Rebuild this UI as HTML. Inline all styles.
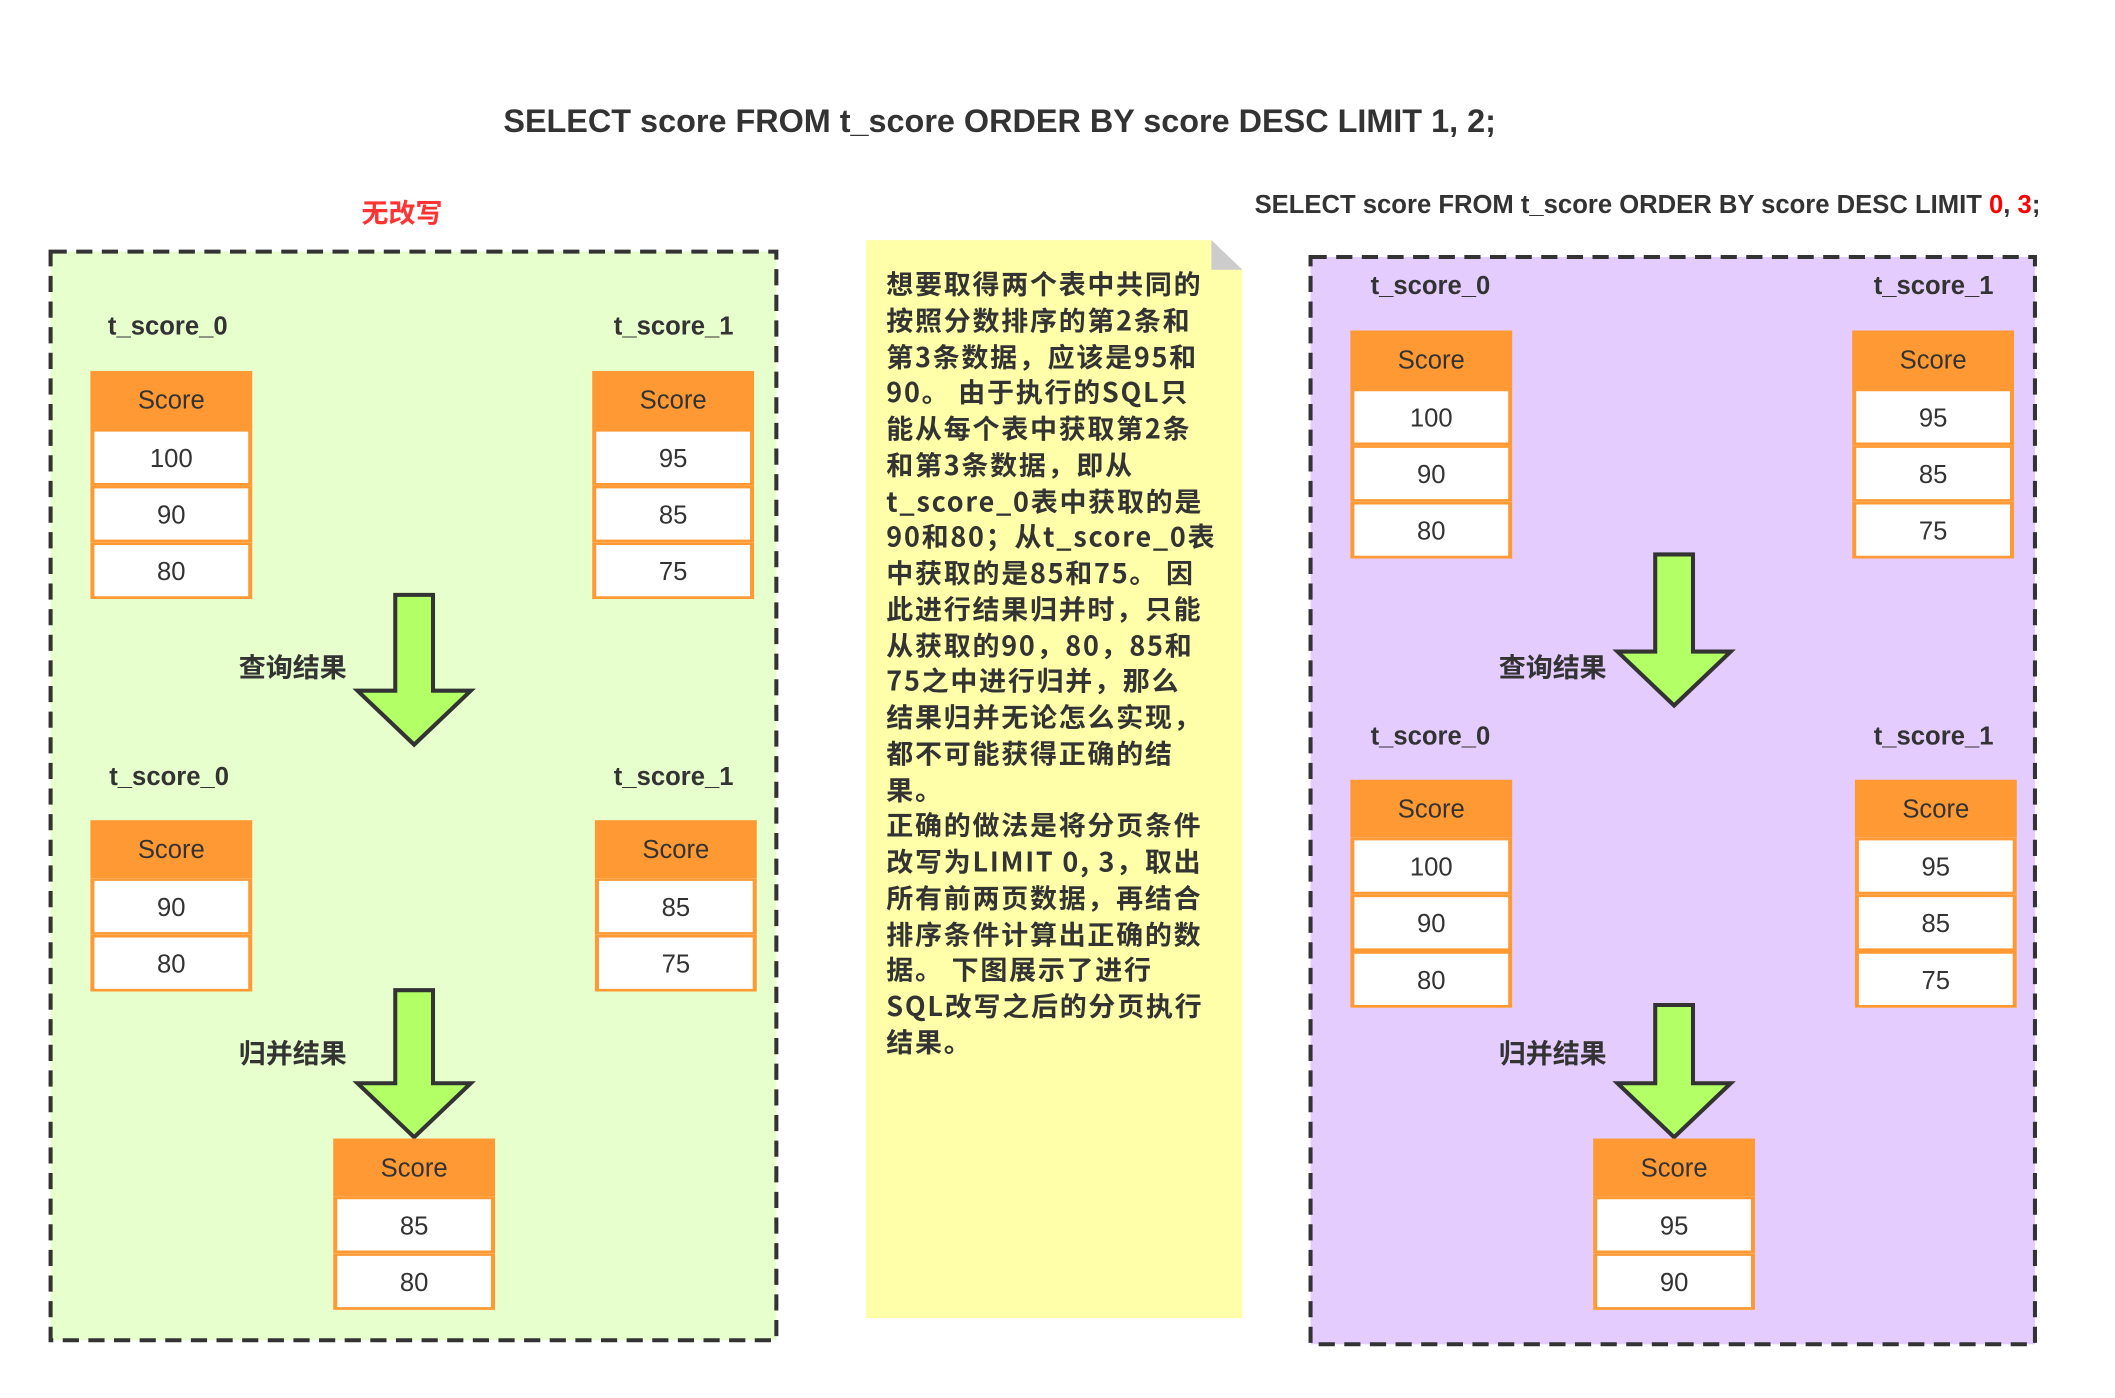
<!DOCTYPE html>
<html><head><meta charset="utf-8"><style>
html,body{margin:0;padding:0;background:#fff;overflow:hidden}
#w{position:absolute;left:0;top:0;width:1560px;height:1031px;transform:scale(1.349);transform-origin:0 0;font-family:"Liberation Sans","Noto Sans CJK SC",sans-serif;color:#333}
.a{position:absolute;white-space:nowrap}
.b{font-weight:bold}
.lbl{position:absolute;font-weight:bold;font-size:19px;line-height:20px;transform:translateY(-8px)}
.tb{position:absolute;width:120px}
.tb div{box-sizing:border-box;height:42px;display:flex;align-items:center;justify-content:center;font-size:19px;padding-top:3px}
.tb .h{background:#ff9933;height:43px}
.tb .c{background:#fff;border:3px solid #ff9933;border-top-width:2px;border-bottom-width:2px}
svg{position:absolute;left:0;top:0}
</style></head><body><div id="w">
<div class="a b" style="left:0;width:1482px;text-align:center;top:77px;font-size:24px">SELECT score FROM t_score ORDER BY score DESC LIMIT 1, 2;</div>
<div class="a b" style="left:268px;top:142px;font-size:20px;color:#ff3333">无改写</div>
<div class="a b" style="left:930px;top:142px;font-size:19px">SELECT score FROM t_score ORDER BY score DESC LIMIT <span style="color:#f00">0</span>, <span style="color:#f00">3</span>;</div>

<svg width="1560" height="1031">
<rect x="37.5" y="186.5" width="538" height="807" fill="#e6ffcc" stroke="#333" stroke-width="3" stroke-dasharray="12 7"/>
<rect x="971.5" y="190.5" width="537" height="806" fill="#e5ccff" stroke="#333" stroke-width="3" stroke-dasharray="12 7"/>
<polygon points="642,178 898,178 921,200 921,977 642,977" fill="#ffffaa"/>
<polygon points="898,178 921,200 898,200" fill="#cccccc"/>
<g fill="#b3ff66" stroke="#333" stroke-width="3">
<polygon points="293,441 321,441 321,512 349,512 307,552 265,512 293,512"/>
<polygon points="293,734 321,734 321,803 349,803 307,843 265,803 293,803"/>
<polygon points="1227,411 1255,411 1255,483 1283,483 1241,523 1199,483 1227,483"/>
<polygon points="1227,745 1255,745 1255,803 1283,803 1241,843 1199,803 1227,803"/>
</g>
</svg>

<div class="a b" style="left:657px;top:197px;font-size:20px;line-height:26.75px;font-family:'Noto Sans CJK SC',sans-serif;letter-spacing:1.3px">想要取得两个表中共同的<br>按照分数排序的第2条和<br>第3条数据，应该是95和<br>90。 由于执行的SQL只<br>能从每个表中获取第2条<br>和第3条数据，即从<br>t_score_0表中获取的是<br>90和80；从t_score_0表<br>中获取的是85和75。 因<br>此进行结果归并时，只能<br>从获取的90，80，85和<br>75之中进行归并，那么<br>结果归并无论怎么实现，<br>都不可能获得正确的结<br>果。<br>正确的做法是将分页条件<br>改写为LIMIT 0, 3，取出<br>所有前两页数据，再结合<br>排序条件计算出正确的数<br>据。 下图展示了进行<br>SQL改写之后的分页执行<br>结果。</div>

<div class="lbl" style="left:80px;top:241px">t_score_0</div>
<div class="lbl" style="left:455px;top:241px">t_score_1</div>
<div class="tb" style="left:67px;top:275px"><div class="h">Score</div><div class="c">100</div><div class="c">90</div><div class="c">80</div></div>
<div class="tb" style="left:439px;top:275px"><div class="h">Score</div><div class="c">95</div><div class="c">85</div><div class="c">75</div></div>
<div class="a b" style="left:177px;top:479px;font-size:20px">查询结果</div>
<div class="lbl" style="left:81px;top:575px">t_score_0</div>
<div class="lbl" style="left:455px;top:575px">t_score_1</div>
<div class="tb" style="left:67px;top:608px"><div class="h">Score</div><div class="c">90</div><div class="c">80</div></div>
<div class="tb" style="left:441px;top:608px"><div class="h">Score</div><div class="c">85</div><div class="c">75</div></div>
<div class="a b" style="left:177px;top:765px;font-size:20px">归并结果</div>
<div class="tb" style="left:247px;top:844px"><div class="h">Score</div><div class="c">85</div><div class="c">80</div></div>

<div class="lbl" style="left:1016px;top:211px">t_score_0</div>
<div class="lbl" style="left:1389px;top:211px">t_score_1</div>
<div class="tb" style="left:1001px;top:245px"><div class="h">Score</div><div class="c">100</div><div class="c">90</div><div class="c">80</div></div>
<div class="tb" style="left:1373px;top:245px"><div class="h">Score</div><div class="c">95</div><div class="c">85</div><div class="c">75</div></div>
<div class="a b" style="left:1111px;top:479px;font-size:20px">查询结果</div>
<div class="lbl" style="left:1016px;top:545px">t_score_0</div>
<div class="lbl" style="left:1389px;top:545px">t_score_1</div>
<div class="tb" style="left:1001px;top:578px"><div class="h">Score</div><div class="c">100</div><div class="c">90</div><div class="c">80</div></div>
<div class="tb" style="left:1375px;top:578px"><div class="h">Score</div><div class="c">95</div><div class="c">85</div><div class="c">75</div></div>
<div class="a b" style="left:1111px;top:765px;font-size:20px">归并结果</div>
<div class="tb" style="left:1181px;top:844px"><div class="h">Score</div><div class="c">95</div><div class="c">90</div></div>
</div></body></html>
